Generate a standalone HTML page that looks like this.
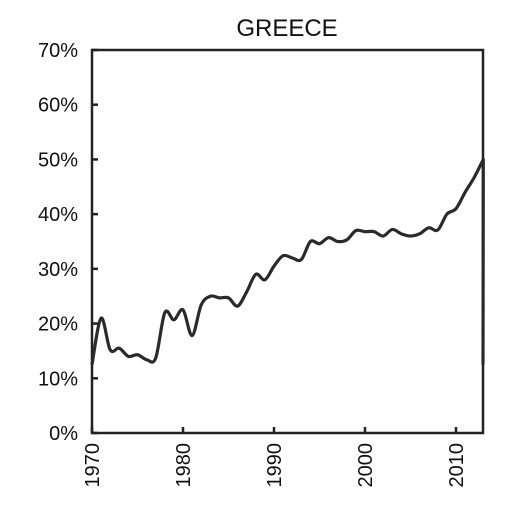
<!DOCTYPE html>
<html><head><meta charset="utf-8"><style>
body{margin:0;background:#fff;}
svg text{font-family:"Liberation Sans",sans-serif;fill:#111;}
</style></head><body>
<svg width="512" height="512" viewBox="0 0 512 512">
<text x="287" y="36" font-size="24" text-anchor="middle">GREECE</text>
<g id="axes"></g>
<path id="line" fill="none" stroke="#2a2a2a" stroke-width="3.2" stroke-linejoin="round"/>
</svg>
<script>
const years=[1970,1971,1972,1973,1974,1975,1976,1977,1978,1979,1980,1981,1982,1983,1984,1985,1986,1987,1988,1989,1990,1991,1992,1993,1994,1995,1996,1997,1998,1999,2000,2001,2002,2003,2004,2005,2006,2007,2008,2009,2010,2011,2012,2013];
const values=[12.5,21,15.2,15.5,14,14.3,13.4,13.7,22,20.7,22.5,17.8,23.4,25,24.7,24.7,23.2,25.8,29,28,30.5,32.4,32,31.7,35,34.6,35.7,35,35.3,37,36.8,36.8,36,37.2,36.4,36,36.4,37.5,37.1,40,41,44,46.7,50];
const yTicks=[0,10,20,30,40,50,60,70];
const xTicks=[1970,1980,1990,2000,2010];
const L=92,R=483,T=50,B=433;
const x=v=>L+(v-1970)*9.1;
const y=v=>B-(v/70)*(B-T);
const NS='http://www.w3.org/2000/svg';
const ax=document.getElementById('axes');
function mk(t,a){const e=document.createElementNS(NS,t);for(const k in a)e.setAttribute(k,a[k]);ax.appendChild(e);return e;}
const frame=mk('rect',{x:L,y:T,width:R-L,height:B-T,fill:'none',stroke:'#222','stroke-width':2.5});


yTicks.forEach(v=>{
 const t=mk('line',{x1:L,x2:L+6,y1:y(v),y2:y(v),stroke:'#222','stroke-width':2.5});
 
 
 const l=mk('text',{x:78,y:y(v)+7,'font-size':20,'text-anchor':'end'});l.textContent=v+'%';
 
 
});
xTicks.forEach(v=>{
 const t=mk('line',{x1:x(v),x2:x(v),y1:B,y2:B-6,stroke:'#222','stroke-width':2.5});
 
 
 const l=mk('text',{x:0,y:0,'font-size':20,'text-anchor':'end',transform:`translate(${x(v)+7},${B+10}) rotate(-90)`});l.textContent=v;
 
 
});
const pts=years.map((yr,i)=>[x(yr),y(values[i])]);
let d='M'+pts[0][0]+','+pts[0][1];
for(let i=0;i<pts.length-1;i++){
 const p0=pts[Math.max(0,i-1)],p1=pts[i],p2=pts[i+1],p3=pts[Math.min(pts.length-1,i+2)];
 const c1=[p1[0]+(p2[0]-p0[0])/6,p1[1]+(p2[1]-p0[1])/6],c2=[p2[0]-(p3[0]-p1[0])/6,p2[1]-(p3[1]-p1[1])/6];
 d+=`C${c1[0]},${c1[1]} ${c2[0]},${c2[1]} ${p2[0]},${p2[1]}`;
}
d+=`L${R},${y(values[0])}`;
document.getElementById('line').setAttribute('d',d);
</script>
</body></html>
